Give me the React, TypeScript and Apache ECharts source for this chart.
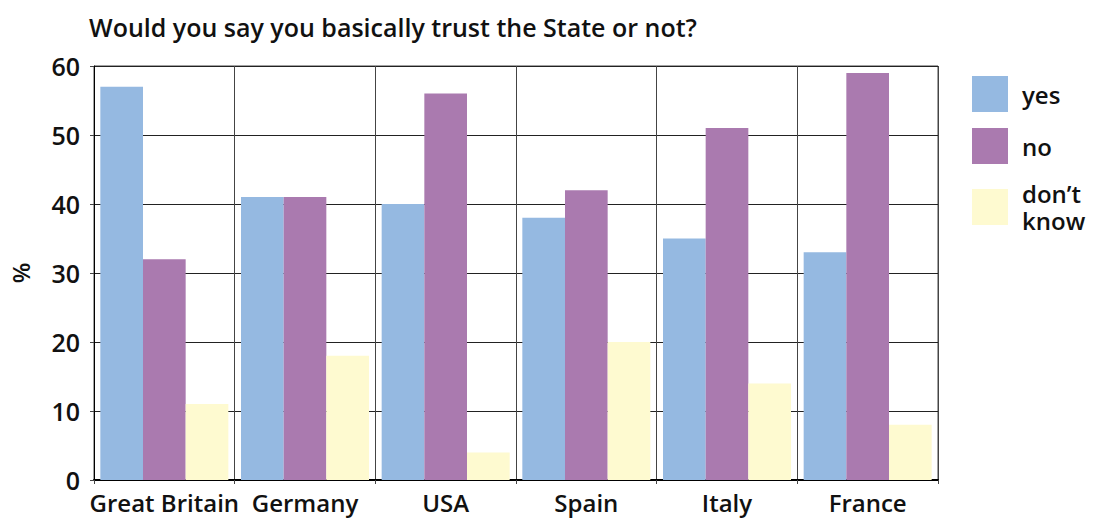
import React, { useEffect, useRef } from "react";
import * as echarts from "echarts";

const categories = ["Great Britain", "Germany", "USA", "Spain", "Italy", "France"];
const yesValues = [57, 41, 40, 38, 35, 33];
const noValues = [32, 41, 56, 42, 51, 59];
const dontKnowValues = [11, 18, 4, 20, 14, 8];
const seriesNames = ["yes", "no", "don’t know"];

const FONT = "'Open Sans', 'Noto Sans', sans-serif";

export default function App() {
  const ref = useRef<HTMLDivElement>(null);
  useEffect(() => {
    if (!ref.current) return;
    const chart = echarts.init(ref.current, null, { renderer: "svg" });
    chart.setOption({
      animation: false,
      title: {
        text: "Would you say you basically trust the State or not?",
        left: 84,
        top: 9,
        textStyle: { fontFamily: FONT, fontWeight: 600, fontSize: 25, color: "#111" },
      },
      grid: {
        left: 94,
        right: 158,
        top: 66,
        bottom: 39,
        show: true,
        borderColor: "#444",
        borderWidth: 1,
      },
      legend: {
        orient: "vertical",
        left: 972,
        top: 76,
        padding: 0,
        itemWidth: 36,
        itemHeight: 36,
        itemGap: 16,
        icon: "rect",
        data: seriesNames,
        formatter: (n: string) => (n === "don’t know" ? "don’t\nknow" : n),
        textStyle: {
          fontFamily: FONT,
          fontWeight: 600,
          fontSize: 24,
          color: "#111",
          lineHeight: 27,
          padding: [0, 0, 0, 9],
        },
      },
      xAxis: {
        type: "category",
        data: categories,
        axisLine: { show: true, lineStyle: { color: "#000", width: 2 } },
        axisTick: { show: true, interval: 0, length: 4, lineStyle: { color: "#444" } },
        splitLine: { show: true, interval: 0, lineStyle: { color: "#444", width: 1 } },
        axisLabel: {
          interval: 0,
          fontFamily: FONT,
          fontWeight: 600,
          fontSize: 24,
          color: "#111",
          margin: 10,
        },
      },
      yAxis: {
        type: "value",
        min: 0,
        max: 60,
        interval: 10,
        name: "%",
        nameLocation: "middle",
        nameGap: 62,
        nameRotate: 90,
        nameTextStyle: { fontFamily: FONT, fontWeight: 600, fontSize: 24, color: "#111" },
        axisLine: { show: true, lineStyle: { color: "#000", width: 1 } },
        axisTick: { show: true, length: 4, lineStyle: { color: "#444" } },
        splitLine: { show: true, lineStyle: { color: "#222", width: 1 } },
        axisLabel: {
          fontFamily: FONT,
          fontWeight: 600,
          fontSize: 25,
          color: "#111",
          margin: 14,
        },
      },
      series: [
        { name: seriesNames[0], type: "bar", data: yesValues, itemStyle: { color: "#95B9E1" }, barGap: "0%", barCategoryGap: "9%" },
        { name: seriesNames[1], type: "bar", data: noValues, itemStyle: { color: "#AA7AAF" }, barGap: "0%", barCategoryGap: "9%" },
        { name: seriesNames[2], type: "bar", data: dontKnowValues, itemStyle: { color: "#FEFAD0" }, barGap: "0%", barCategoryGap: "9%" },
      ],
    });
    return () => chart.dispose();
  }, []);
  return (
    <div
      ref={ref}
      style={{ position: "absolute", left: 0, top: 0, width: 1096, height: 519 }}
    />
  );
}
